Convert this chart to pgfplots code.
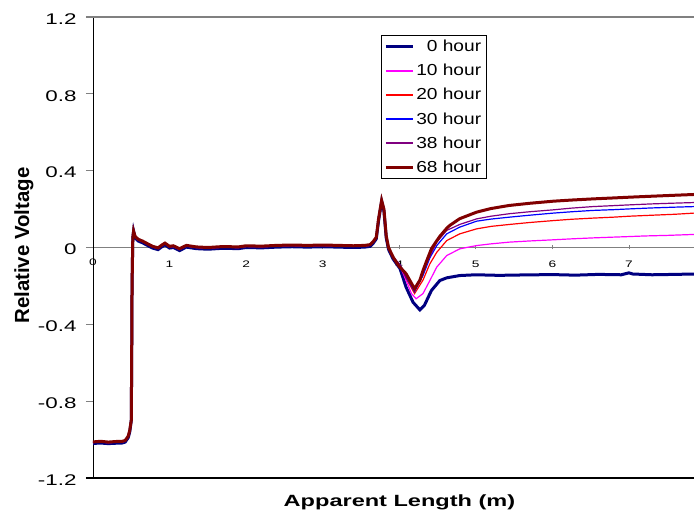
\documentclass[border=0pt]{standalone}
\usepackage{pgfplots}
\pgfplotsset{compat=1.18}
\usepackage{fontspec}
\setmainfont{Liberation Sans}
\newfontfamily\widefont{Liberation Sans}[FakeStretch=1.45]
\newfontfamily\legfont{Liberation Sans}[FakeStretch=1.2]
\definecolor{c0}{HTML}{000080}
\definecolor{c10}{HTML}{FF00FF}
\definecolor{c20}{HTML}{FF0000}
\definecolor{c30}{HTML}{0000FF}
\definecolor{c38}{HTML}{800080}
\definecolor{c68}{HTML}{800000}
\begin{document}
\begin{tikzpicture}
\useasboundingbox (-93bp,-36bp) rectangle (601bp,478bp);
\begin{axis}[
  at={(0,0)}, anchor=south west,
  scale only axis, width=601bp, height=461bp,
  xmin=0, xmax=7.85, ymin=-1.2, ymax=1.2,
  clip mode=individual,
  axis x line*=middle, axis y line*=left,
  hide obscured x ticks=false,
  x axis line style={color=gray, line width=1.3bp},
  y axis line style={color=black, line width=0.9bp},
  xtick={0,1,2,3,4,5,6,7},
  xticklabels={{},1,2,3,4,5,6,7},
  ytick={-1.2,-0.8,-0.4,0,0.4,0.8,1.2},
  yticklabels={-1.2,-0.8,-0.4,0,0.4,0.8,1.2},
  xtick align=center, ytick align=outside,
  xtick style={/pgfplots/major tick length=4bp, color=gray, line width=0.8bp},
  ytick style={/pgfplots/major tick length=7bp, color=gray, line width=0.9bp},
  yticklabel style={font=\widefont\fontsize{15.5}{16}\selectfont, anchor=east, inner sep=0pt, xshift=-12bp, yshift=-2bp},
  xticklabel style={font=\widefont\fontsize{9.5}{10}\selectfont, anchor=north, inner sep=0pt, yshift=-11bp},
  xlabel={Apparent Length (m)},
  ylabel={Relative Voltage},
  every axis x label/.style={at={(rel axis cs:0.5,0)}, anchor=base, xshift=6bp, yshift=-28.7bp, font=\widefont\bfseries\fontsize{16.3}{18}\selectfont},
  every axis y label/.style={at={(rel axis cs:0,0.5)}, xshift=-69bp, yshift=2bp, rotate=90, anchor=center, font=\bfseries\fontsize{20.5}{22}\selectfont},
  legend image code/.code={\draw[#1] (0bp,0bp) -- (27bp,0bp);},
  legend cell align=right,
  legend style={at={(rel axis cs:0.479,0.961)}, anchor=north west, draw=black, line width=0.8bp,
    font=\legfont\fontsize{16}{18}\selectfont, row sep=7bp, inner sep=3bp},
]
\addplot[c0, line width=3bp] coordinates {
(0,-1.02)(0.1,-1.018)(0.2,-1.021)(0.3,-1.019)(0.38,-1.018)(0.42,-1.013)(0.46,-0.99)(0.48,-0.96)(0.50,-0.90)(0.505,-0.60)(0.51,-0.20)(0.52,0.05)(0.53,0.085)(0.55,0.05)(0.59,0.034)(0.65,0.024)(0.72,0.009)(0.78,-0.003)(0.85,-0.011)(0.90,0.004)(0.94,0.014)(1.00,-0.003)(1.05,0.0)(1.13,-0.016)(1.22,0.002)(1.35,-0.006)(1.5,-0.009)(1.7,-0.004)(1.9,-0.006)(2.0,0.0)(2.2,-0.002)(2.4,0.002)(2.6,0.004)(2.8,0.002)(3.0,0.004)(3.2,0.002)(3.4,0.0)(3.55,0.002)(3.62,0.006)(3.66,0.022)(3.70,0.045)(3.73,0.14)(3.77,0.24)(3.80,0.19)(3.83,0.05)(3.86,-0.01)(3.92,-0.06)(4.01,-0.11)(4.09,-0.207)(4.18,-0.285)(4.27,-0.325)(4.33,-0.30)(4.42,-0.224)(4.53,-0.172)(4.62,-0.158)(4.79,-0.146)(5.0,-0.142)(5.3,-0.145)(5.6,-0.143)(6.0,-0.141)(6.3,-0.144)(6.6,-0.140)(6.9,-0.142)(7.0,-0.132)(7.05,-0.138)(7.3,-0.142)(7.6,-0.140)(7.85,-0.138)
};
\addlegendentry{0 hour}
\addplot[c10, line width=1.2bp] coordinates {
(0,-1.015)(0.1,-1.012)(0.2,-1.016)(0.3,-1.013)(0.38,-1.012)(0.42,-1.008)(0.46,-0.985)(0.48,-0.955)(0.50,-0.90)(0.505,-0.60)(0.51,-0.20)(0.52,0.05)(0.53,0.09)(0.55,0.055)(0.59,0.04)(0.65,0.03)(0.72,0.015)(0.78,0.003)(0.85,-0.005)(0.90,0.01)(0.94,0.02)(1.00,0.003)(1.05,0.006)(1.13,-0.01)(1.22,0.008)(1.35,0.0)(1.5,-0.003)(1.7,0.002)(1.9,0.0)(2.0,0.006)(2.2,0.004)(2.4,0.008)(2.6,0.01)(2.8,0.008)(3.0,0.01)(3.2,0.008)(3.4,0.006)(3.55,0.008)(3.62,0.012)(3.66,0.028)(3.70,0.05)(3.73,0.15)(3.77,0.245)(3.80,0.20)(3.83,0.06)(3.86,0.0)(3.92,-0.05)(4.01,-0.095)(4.09,-0.172)(4.16,-0.24)(4.22,-0.267)(4.31,-0.24)(4.40,-0.172)(4.49,-0.102)(4.62,-0.042)(4.79,-0.007)(5.01,0.01)(5.2,0.019)(5.44,0.028)(5.7,0.034)(6.01,0.04)(6.25,0.045)(6.53,0.05)(6.8,0.054)(7.01,0.057)(7.2,0.06)(7.5,0.063)(7.85,0.068)
};
\addlegendentry{10 hour}
\addplot[c20, line width=1.2bp] coordinates {
(0,-1.015)(0.1,-1.012)(0.2,-1.016)(0.3,-1.013)(0.38,-1.012)(0.42,-1.008)(0.46,-0.985)(0.48,-0.955)(0.50,-0.90)(0.505,-0.60)(0.51,-0.20)(0.52,0.05)(0.53,0.09)(0.55,0.055)(0.59,0.04)(0.65,0.03)(0.72,0.015)(0.78,0.003)(0.85,-0.005)(0.90,0.01)(0.94,0.02)(1.00,0.003)(1.05,0.006)(1.13,-0.01)(1.22,0.008)(1.35,0.0)(1.5,-0.003)(1.7,0.002)(1.9,0.0)(2.0,0.006)(2.2,0.004)(2.4,0.008)(2.6,0.01)(2.8,0.008)(3.0,0.01)(3.2,0.008)(3.4,0.006)(3.55,0.008)(3.62,0.012)(3.66,0.028)(3.70,0.05)(3.73,0.15)(3.77,0.245)(3.80,0.20)(3.83,0.06)(3.86,0.0)(3.92,-0.05)(4.01,-0.092)(4.09,-0.16)(4.20,-0.24)(4.31,-0.17)(4.40,-0.085)(4.49,-0.025)(4.62,0.036)(4.79,0.071)(5.01,0.097)(5.2,0.11)(5.44,0.12)(5.7,0.13)(6.01,0.14)(6.25,0.147)(6.53,0.153)(6.8,0.158)(7.01,0.163)(7.3,0.168)(7.6,0.173)(7.85,0.179)
};
\addlegendentry{20 hour}
\addplot[c30, line width=1.2bp] coordinates {
(0,-1.015)(0.1,-1.012)(0.2,-1.016)(0.3,-1.013)(0.38,-1.012)(0.42,-1.008)(0.46,-0.985)(0.48,-0.955)(0.50,-0.90)(0.505,-0.60)(0.51,-0.20)(0.52,0.05)(0.53,0.09)(0.55,0.055)(0.59,0.04)(0.65,0.03)(0.72,0.015)(0.78,0.003)(0.85,-0.005)(0.90,0.01)(0.94,0.02)(1.00,0.003)(1.05,0.006)(1.13,-0.01)(1.22,0.008)(1.35,0.0)(1.5,-0.003)(1.7,0.002)(1.9,0.0)(2.0,0.006)(2.2,0.004)(2.4,0.008)(2.6,0.01)(2.8,0.008)(3.0,0.01)(3.2,0.008)(3.4,0.006)(3.55,0.008)(3.62,0.012)(3.66,0.028)(3.70,0.05)(3.73,0.15)(3.77,0.245)(3.80,0.20)(3.83,0.06)(3.86,0.0)(3.92,-0.05)(4.01,-0.09)(4.09,-0.155)(4.20,-0.23)(4.31,-0.146)(4.40,-0.054)(4.49,0.01)(4.62,0.071)(4.79,0.106)(5.01,0.137)(5.2,0.148)(5.44,0.158)(5.7,0.168)(6.01,0.179)(6.25,0.186)(6.53,0.193)(6.8,0.197)(7.01,0.201)(7.3,0.206)(7.6,0.21)(7.85,0.213)
};
\addlegendentry{30 hour}
\addplot[c38, line width=1.2bp] coordinates {
(0,-1.015)(0.1,-1.012)(0.2,-1.016)(0.3,-1.013)(0.38,-1.012)(0.42,-1.008)(0.46,-0.985)(0.48,-0.955)(0.50,-0.90)(0.505,-0.60)(0.51,-0.20)(0.52,0.05)(0.53,0.1)(0.55,0.06)(0.59,0.04)(0.65,0.03)(0.72,0.015)(0.78,0.003)(0.85,-0.005)(0.90,0.01)(0.94,0.02)(1.00,0.003)(1.05,0.006)(1.13,-0.01)(1.22,0.008)(1.35,0.0)(1.5,-0.003)(1.7,0.002)(1.9,0.0)(2.0,0.006)(2.2,0.004)(2.4,0.008)(2.6,0.01)(2.8,0.008)(3.0,0.01)(3.2,0.008)(3.4,0.006)(3.55,0.008)(3.62,0.012)(3.66,0.028)(3.70,0.05)(3.73,0.15)(3.77,0.245)(3.80,0.20)(3.83,0.06)(3.86,0.0)(3.92,-0.05)(4.01,-0.09)(4.09,-0.15)(4.20,-0.225)(4.31,-0.13)(4.40,-0.045)(4.49,0.028)(4.62,0.089)(4.79,0.12)(5.01,0.149)(5.2,0.163)(5.44,0.176)(5.7,0.186)(6.01,0.196)(6.25,0.205)(6.53,0.213)(6.8,0.218)(7.01,0.222)(7.3,0.227)(7.6,0.231)(7.85,0.234)
};
\addlegendentry{38 hour}
\addplot[c68, line width=3bp] coordinates {
(0,-1.012)(0.1,-1.009)(0.2,-1.013)(0.3,-1.01)(0.38,-1.009)(0.42,-1.005)(0.46,-0.982)(0.48,-0.952)(0.50,-0.90)(0.505,-0.60)(0.51,-0.20)(0.52,0.05)(0.53,0.085)(0.55,0.058)(0.59,0.043)(0.65,0.033)(0.72,0.018)(0.78,0.006)(0.85,-0.002)(0.90,0.013)(0.94,0.023)(1.00,0.006)(1.05,0.009)(1.13,-0.006)(1.22,0.011)(1.35,0.003)(1.5,0.0)(1.7,0.005)(1.9,0.003)(2.0,0.009)(2.2,0.007)(2.4,0.011)(2.6,0.013)(2.8,0.011)(3.0,0.013)(3.2,0.011)(3.4,0.009)(3.55,0.011)(3.62,0.015)(3.66,0.031)(3.70,0.053)(3.73,0.15)(3.77,0.245)(3.80,0.20)(3.83,0.06)(3.86,0.0)(3.92,-0.05)(3.99,-0.094)(4.09,-0.137)(4.20,-0.215)(4.27,-0.17)(4.31,-0.12)(4.36,-0.068)(4.42,-0.007)(4.49,0.035)(4.53,0.058)(4.62,0.10)(4.66,0.115)(4.79,0.15)(5.01,0.184)(5.2,0.203)(5.44,0.219)(5.7,0.23)(6.01,0.241)(6.25,0.247)(6.53,0.253)(6.8,0.258)(7.01,0.262)(7.3,0.267)(7.6,0.272)(7.85,0.276)
};
\addlegendentry{68 hour}
\draw[gray, line width=1.3bp] ([xshift=-7bp]rel axis cs:0,1) -- (rel axis cs:1,1);
\draw[black, line width=1.1bp] ([xshift=-7bp]rel axis cs:0,0) -- (rel axis cs:1,0);
\node[font=\widefont\fontsize{9.5}{10}\selectfont, anchor=north, inner sep=0pt, yshift=-11bp] at (axis cs:0,0) {0};
\end{axis}
\end{tikzpicture}
\end{document}
